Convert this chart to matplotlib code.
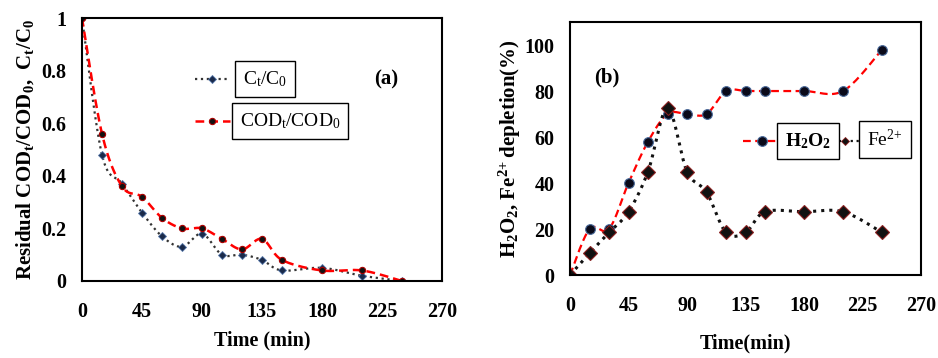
import numpy as np
import matplotlib
matplotlib.use("Agg")
import matplotlib.pyplot as plt
from matplotlib.lines import Line2D

plt.rcParams['font.family'] = ['Liberation Serif', 'DejaVu Serif']
plt.rcParams['mathtext.default'] = 'regular'

# (a) residual fractions
time_a = [0, 15, 30, 45, 60, 75, 90, 105, 120, 135, 150, 180, 210, 240]
ct_c0 = [1.0, 0.48, 0.37, 0.26, 0.17, 0.13, 0.18, 0.10, 0.10, 0.08, 0.04, 0.05, 0.02, 0.0]
cod_ratio = [1.0, 0.56, 0.36, 0.32, 0.24, 0.20, 0.20, 0.16, 0.12, 0.16, 0.08, 0.04, 0.04, 0.0]

# (b) depletion (%)
time_b = [0, 15, 30, 45, 60, 75, 90, 105, 120, 135, 150, 180, 210, 240]
h2o2 = [0, 20, 20, 40, 58, 70, 70, 70, 80, 80, 80, 80, 80, 98]
fe2 = [0, 9.5, 18.5, 27.5, 45, 72.5, 45, 36, 18.5, 18.5, 27.5, 27.5, 27.5, 18.5]

x_ticks = [0, 45, 90, 135, 180, 225, 270]


def smooth(x, y, n=20):
    # Catmull-Rom curve through the points (like Excel "smoothed line")
    p = np.column_stack([x, y]).astype(float)
    p = np.vstack([p[0], p, p[-1]])
    out = []
    t = np.linspace(0, 1, n, endpoint=False)[:, None]
    for i in range(1, len(p) - 2):
        p0, p1, p2, p3 = p[i - 1], p[i], p[i + 1], p[i + 2]
        seg = 0.5 * ((2 * p1) + (-p0 + p2) * t + (2 * p0 - 5 * p1 + 4 * p2 - p3) * t ** 2
                     + (-p0 + 3 * p1 - 3 * p2 + p3) * t ** 3)
        out.append(seg)
    out.append(p[-2][None, :])
    out = np.vstack(out)
    return out[:, 0], out[:, 1]


fig = plt.figure(figsize=(9.38, 3.58), dpi=100)
ax1 = fig.add_axes([0.0874, 0.2151, 0.3838, 0.7346])
ax2 = fig.add_axes([0.6077, 0.2318, 0.3742, 0.7067])

# ---- panel (a)
sx, sy = smooth(time_a, ct_c0)
ax1.plot(sx, sy, ':', color='#333333', lw=1.6)
ax1.plot(time_a, ct_c0, 'D', color='#1a2a4a', ms=4.5, mec='#5577aa', mew=0.6)
sx, sy = smooth(time_a, cod_ratio)
ax1.plot(sx, sy, '--', color='#ff0000', lw=1.8, dashes=(3.5, 2))
ax1.plot(time_a, cod_ratio, 'o', color='#111111', ms=4.5, mec='#aa0000', mew=0.8)

ax1.set_xlim(0, 270)
ax1.set_ylim(0, 1)
ax1.set_xticks(x_ticks)
ax1.set_yticks([0, 0.2, 0.4, 0.6, 0.8, 1])
ax1.set_yticklabels(['0', '0.2', '0.4', '0.6', '0.8', '1'])
ax1.set_xlabel('Time (min)', fontsize=14.5, fontweight='bold', labelpad=6)
ax1.set_ylabel(r'Residual COD$_t$/COD$_0$,  C$_t$/C$_0$', fontsize=15, fontweight='bold', labelpad=4)
ax1.text(0.844, 0.768, '(a)', transform=ax1.transAxes, fontsize=15, fontweight='bold',
         ha='center', va='center')

# legend for (a)
ax1.add_line(Line2D([0.314, 0.411], [0.768, 0.768], transform=ax1.transAxes, ls=':', color='#333333', lw=1.6))
ax1.add_line(Line2D([0.36], [0.768], transform=ax1.transAxes, marker='D', color='#1a2a4a', ms=4.5,
                    mec='#5577aa', mew=0.6))
ax1.add_line(Line2D([0.314, 0.411], [0.608, 0.608], transform=ax1.transAxes, ls='--', dashes=(3.5, 2),
                    color='#ff0000', lw=1.8))
ax1.add_line(Line2D([0.36], [0.608], transform=ax1.transAxes, marker='o', color='#111111', ms=4.5,
                    mec='#aa0000', mew=0.8))
box = dict(boxstyle='square,pad=0.4', fc='white', ec='black', lw=1.0)
ax1.text(0.447, 0.768, r'C$_t$/C$_0$', transform=ax1.transAxes, fontsize=14, ha='left', va='center', bbox=box)
ax1.text(0.439, 0.608, r'COD$_t$/COD$_0$', transform=ax1.transAxes, fontsize=14, ha='left', va='center', bbox=box)

# ---- panel (b)
sx, sy = smooth(time_b, h2o2)
ax2.plot(sx, sy, '--', color='#ff0000', lw=1.6, dashes=(3.5, 2))
ax2.plot(time_b, h2o2, 'o', color='#0a0a1a', ms=7, mec='#4a6a9a', mew=0.8)
sx, sy = smooth(time_b, fe2)
ax2.plot(sx, sy, ':', color='#111111', lw=2.2)
ax2.plot(time_b, fe2, 'D', color='#111111', ms=7, mec='#8a2020', mew=0.8)

ax2.set_xlim(0, 270)
ax2.set_ylim(0, 110)
ax2.set_xticks(x_ticks)
ax2.set_yticks([0, 20, 40, 60, 80, 100])
ax2.set_xlabel('Time(min)', fontsize=14.5, fontweight='bold', labelpad=13)
ax2.set_ylabel(r'H$_2$O$_2$, Fe$^{2\!+}$depletion(%)', fontsize=15, fontweight='bold', labelpad=1)
ax2.text(0.105, 0.78, '(b)', transform=ax2.transAxes, fontsize=15, fontweight='bold',
         ha='center', va='center')

# legend for (b)
ax2.add_line(Line2D([0.493, 0.604], [0.53, 0.53], transform=ax2.transAxes, ls='--', dashes=(3.5, 2),
                    color='#ff0000', lw=1.6))
ax2.add_line(Line2D([0.547], [0.53], transform=ax2.transAxes, marker='o', color='#0a0a1a', ms=7,
                    mec='#4a6a9a', mew=0.8))
ax2.add_line(Line2D([0.75, 0.84], [0.53, 0.53], transform=ax2.transAxes, ls=':', color='#111111', lw=1.6))
ax2.add_line(Line2D([0.783], [0.53], transform=ax2.transAxes, marker='D', color='#111111', ms=4,
                    mec='#8a2020', mew=0.6))
ax2.text(0.678, 0.53, r'H$_2$O$_2$', transform=ax2.transAxes, fontsize=14, fontweight='bold',
         ha='center', va='center', bbox=box)
ax2.text(0.897, 0.535, r'Fe$^{2\!+}$', transform=ax2.transAxes, fontsize=14,
         ha='center', va='center', bbox=box)

for ax in (ax1, ax2):
    for sp in ax.spines.values():
        sp.set_linewidth(1.5)
    ax.tick_params(axis='x', length=0, pad=15)
    ax.tick_params(axis='y', length=0, pad=11)
    for lab in ax.get_xticklabels() + ax.get_yticklabels():
        lab.set_fontsize(14.5)
        lab.set_fontweight('bold')

fig.savefig('out.png', dpi=100)
